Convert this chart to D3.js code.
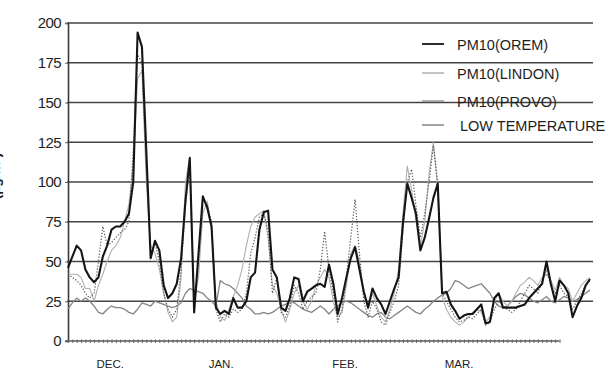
<!DOCTYPE html>
<html>
<head>
<meta charset="utf-8">
<script src="https://cdn.jsdelivr.net/npm/d3@7"></script>
<style>
  html, body { margin: 0; padding: 0; background: #fff; }
  svg { display: block; }
  text { font-family: "Liberation Sans", Arial, Helvetica, sans-serif; fill: #1e1e1e; }
</style>
</head>
<body>
<svg id="chart" width="613" height="371"></svg>
<script>
// Daily readings, day 0 = first day of December
const yTicks = [0, 25, 50, 75, 100, 125, 150, 175, 200];
const months = ["DEC.", "JAN.", "FEB.", "MAR."];
const monthLabelDays = [9.7, 35.2, 63.7, 89.9];
const seriesNames = ["PM10(OREM)", "PM10(LINDON)", "PM10(PROVO)", "LOW TEMPERATURE"];

const orem = [
  46, 53, 60, 57, 45, 40, 37, 40, 53, 60, 70, 72, 72, 75, 80, 100, 194, 185, 120, 52,
  63, 57, 35, 27, 30, 36, 52, 88, 115, 18, 55, 91, 84, 72, 21, 17, 19, 17, 27, 21,
  21, 25, 40, 43, 70, 81, 82, 45, 40, 21, 19, 27, 40, 39, 25, 31, 33, 35, 36, 34,
  48, 36, 17, 27, 40, 52, 59, 45, 31, 21, 33, 27, 23, 17, 25, 33, 40, 74, 99, 90,
  80, 57, 65, 77, 90, 99, 30, 31, 23, 19, 14, 16, 17, 17, 20, 23, 11, 12, 27, 30,
  21, 21, 21, 21, 22, 23, 27, 30, 33, 36, 50, 36, 25, 38, 35, 30, 15, 22, 27, 35, 39
];
const lindon = [
  42, 42, 42, 40, 33, 33, 25, 35, 42, 50, 57, 60, 65, 75, 86, 110, 165, 170, 100, 60,
  55, 45, 30, 18, 12, 15, 40, 100, 116, 25, 40, 80, 88, 70, 25, 15, 13, 20, 28, 35,
  45, 60, 72, 78, 80, 82, 65, 35, 30, 20, 12, 20, 30, 35, 25, 20, 25, 35, 40, 45,
  40, 25, 15, 18, 35, 55, 60, 50, 30, 20, 30, 22, 15, 12, 20, 30, 45, 80, 110, 95,
  75, 60, 75, 105, 125, 95, 28, 20, 15, 12, 10, 12, 15, 18, 20, 18, 12, 15, 25, 30,
  25, 22, 25, 30, 35, 37, 40, 38, 35, 40, 42, 38, 32, 40, 35, 33, 25, 30, 35, 38, 40
];
const provo = [
  42, 40, 38, 35, 30, 27, 30, 50, 72, 60, 62, 65, 68, 70, 75, 120, 180, 175, 110, 55,
  62, 50, 30, 20, 15, 20, 45, 85, 110, 20, 50, 85, 86, 75, 20, 12, 17, 15, 20, 18,
  20, 30, 55, 65, 78, 80, 70, 30, 40, 18, 15, 22, 35, 30, 20, 25, 28, 30, 45, 69,
  45, 30, 12, 20, 40, 65, 89, 55, 25, 15, 25, 20, 12, 10, 18, 25, 35, 70, 100, 108,
  85, 65, 80, 100, 123, 100, 30, 25, 20, 15, 12, 13, 15, 14, 17, 20, 10, 12, 20, 25,
  22, 20, 18, 20, 25, 30, 35, 33, 30, 38, 45, 35, 30, 35, 30, 28, 20, 25, 30, 35, 38
];
const lowTemp = [
  20, 24, 27, 25, 27, 25, 22, 18, 17, 20, 22, 21, 21, 20, 18, 17, 20, 24, 23, 22,
  25, 24, 23, 22, 21, 22, 24, 30, 33, 32, 31, 30, 27, 25, 22, 38, 36, 35, 33, 30,
  27, 22, 20, 17, 17, 18, 17, 18, 20, 22, 23, 25, 24, 22, 20, 19, 18, 20, 22, 20,
  17, 20, 22, 24, 25, 24, 22, 20, 18, 16, 15, 17, 18, 15, 14, 16, 18, 20, 22, 20,
  18, 17, 20, 22, 25, 27, 29, 30, 33, 38, 37, 35, 33, 34, 35, 36, 33, 30, 25, 22,
  21, 22, 25, 28, 30, 29, 27, 25, 24, 26, 28, 25, 24, 26, 28, 27, 25, 26, 28, 30, 32
];

const svg = d3.select("#chart");
const nDays = orem.length;

const x = d3.scaleLinear().domain([0, nDays - 1]).range([68, 590]);
const y = d3.scaleLinear().domain([0, 200]).range([341, 23]);

// horizontal grid at every labelled value above zero
svg.append("g")
  .selectAll("line")
  .data(yTicks.filter(v => v > 0))
  .join("line")
  .attr("x1", 67).attr("x2", 593)
  .attr("y1", d => y(d)).attr("y2", d => y(d))
  .attr("stroke", "#444").attr("stroke-width", 1.7);

// y axis with value labels
const yAxis = svg.append("g")
  .attr("transform", `translate(${x(0)},0)`)
  .call(d3.axisLeft(y).tickValues(yTicks).tickSize(3).tickPadding(4));
yAxis.select(".domain").attr("stroke", "#3a3a3a").attr("stroke-width", 1.6);
yAxis.selectAll(".tick line").attr("stroke", "#666");
yAxis.selectAll("text")
  .attr("font-size", 15).attr("font-family", "Liberation Sans, Arial, sans-serif")
  .attr("fill", "#1e1e1e").attr("letter-spacing", -0.6);

// x axis: one small tick per day
const lastTickDay = 113;
const xAxis = svg.append("g")
  .attr("transform", `translate(0,${y(0)})`)
  .call(d3.axisBottom(x).tickValues(d3.range(0, lastTickDay + 1)).tickSize(2).tickFormat(""));
xAxis.select(".domain").remove();
xAxis.append("line")
  .attr("x1", x(0) - 3).attr("x2", x(lastTickDay))
  .attr("stroke", "#5a5a5a").attr("stroke-width", 1.4);
xAxis.selectAll(".tick line").attr("stroke", "#6a6a6a").attr("y1", -1.5).attr("y2", 2);

// month names under the axis
svg.append("g")
  .selectAll("text")
  .data(months)
  .join("text")
  .attr("x", (d, i) => x(monthLabelDays[i]))
  .attr("y", 368)
  .attr("text-anchor", "middle")
  .attr("font-size", 11.5)
  .text(d => d);

// side title, running off the left edge
svg.append("text")
  .attr("transform", "translate(0,176) rotate(-90)")
  .attr("text-anchor", "middle")
  .attr("font-size", 14)
  .attr("font-weight", "bold")
  .text("(µg/m³)");

// series
const styles = [
  { data: orem,   stroke: "#151515", width: 2.1, dash: null },
  { data: lindon, stroke: "#b0b0b0", width: 1.1, dash: null },
  { data: provo,  stroke: "#5c5c5c", width: 1.2, dash: "1.3,1.7" },
  { data: lowTemp, stroke: "#858585", width: 1.3, dash: null }
];
const line = d3.line().x((d, i) => x(i)).y(d => y(d));
const drawOrder = [3, 1, 2, 0];
svg.append("g")
  .selectAll("path")
  .data(drawOrder.map(i => styles[i]))
  .join("path")
  .attr("d", d => line(d.data))
  .attr("fill", "none")
  .attr("stroke", d => d.stroke)
  .attr("stroke-width", d => d.width)
  .attr("stroke-dasharray", d => d.dash)
  .attr("stroke-linejoin", "round");

// legend
const legendRows = [44, 73, 101, 125];
const legend = svg.append("g");
legend.selectAll("line")
  .data(styles)
  .join("line")
  .attr("x1", 422).attr("x2", 444)
  .attr("y1", (d, i) => legendRows[i]).attr("y2", (d, i) => legendRows[i])
  .attr("stroke", (d, i) => i === 2 ? "#9a9a9a" : d.stroke)
  .attr("stroke-width", (d, i) => i === 0 ? 1.8 : 1.5);
legend.selectAll("text")
  .data(seriesNames)
  .join("text")
  .attr("x", (d, i) => i === 3 ? 460 : 457)
  .attr("y", (d, i) => legendRows[i] + 6)
  .attr("font-size", 14.5)
  .attr("fill", (d, i) => i === 1 || i === 2 ? "#333" : "#1e1e1e")
  .text(d => d);
</script>
</body>
</html>
